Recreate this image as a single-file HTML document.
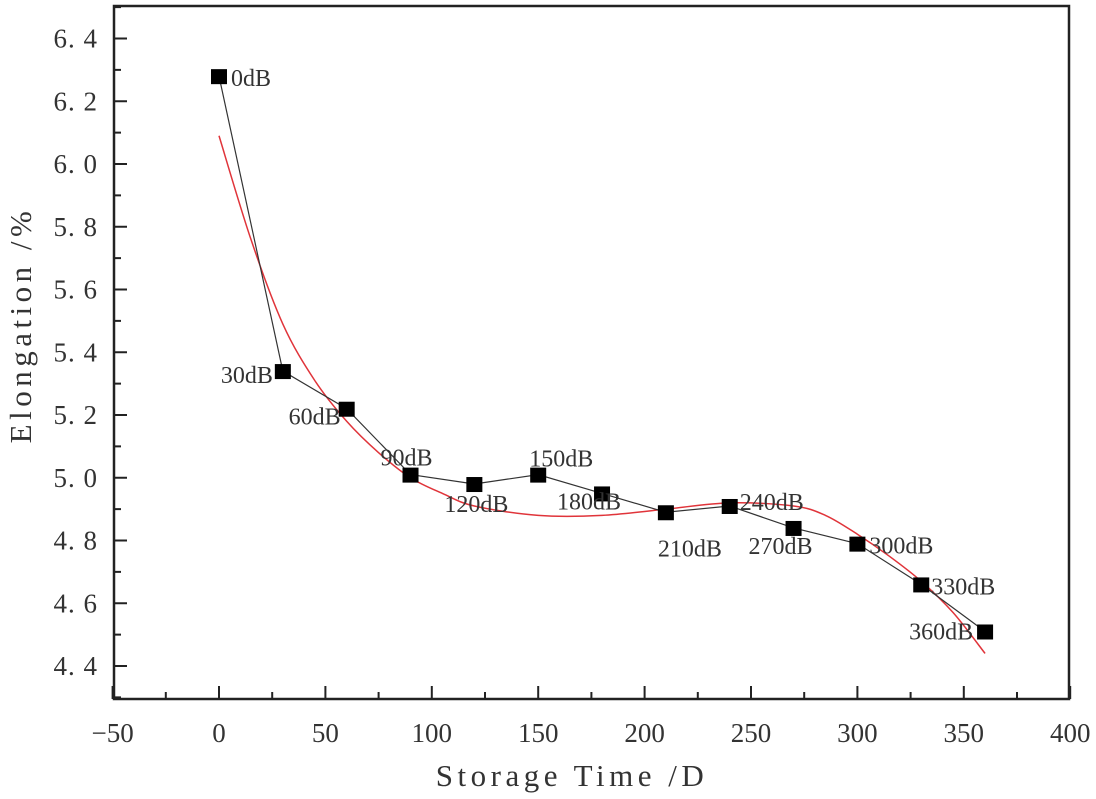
<!DOCTYPE html>
<html><head><meta charset="utf-8"><style>
body{margin:0;background:#fff}
svg text{font-family:"Liberation Serif","Noto Serif CJK SC",serif;fill:#333}
</style></head><body>
<svg id="c" width="1096" height="794"></svg>
<script>
const xs=[0,30,60,90,120,150,180,210,240,270,300,330,360];
const ys=[6.28,5.34,5.22,5.01,4.98,5.01,4.95,4.89,4.91,4.84,4.79,4.66,4.51];
const labels=["0dB","30dB","60dB","90dB","120dB","150dB","180dB","210dB","240dB","270dB","300dB","330dB","360dB"];
const fitX=[0,15,30,45,60,75,90,105,120,150,180,210,240,270,285,300,315,330,345,360];
const fitY=[6.09,5.76,5.49,5.31,5.18,5.08,5.00,4.95,4.91,4.88,4.88,4.90,4.92,4.91,4.88,4.82,4.75,4.67,4.57,4.44];
const xTicks=[-50,0,50,100,150,200,250,300,350,400];
const yTicks=[4.4,4.6,4.8,5.0,5.2,5.4,5.6,5.8,6.0,6.2,6.4];
const L=114,R=1069,T=6,B=699;
const X=v=>219+(v)*106.4/50;
const Y=v=>38.5+(6.4-v)*313.75;
const svg=document.getElementById('c');const NS='http://www.w3.org/2000/svg';
function mk(t,a,p){const e=document.createElementNS(NS,t);for(const k in a)e.setAttribute(k,a[k]);(p||svg).appendChild(e);return e;}
let e=mk('rect',{x:L,y:T,width:R-L,height:B-T,fill:'none',stroke:'#222','stroke-width':2.5});


xTicks.forEach((v,i)=>{const x=X(v);
 mk('line',{x1:x,x2:x,y1:B,y2:B-13,stroke:'#222','stroke-width':2});
 if(i<xTicks.length-1){const m=X(v+25);mk('line',{x1:m,x2:m,y1:B,y2:B-7,stroke:'#222','stroke-width':2});}
 const t=mk('text',{x:x,y:742,'text-anchor':'middle','font-size':27});t.textContent=v<0?'\u221250':String(v);
 
 
});
yTicks.forEach((v,i)=>{const y=Y(v);
 mk('line',{x1:L,x2:L+13,y1:y,y2:y,stroke:'#222','stroke-width':2});
 const m=Y(v+0.1);if(m>T)mk('line',{x1:L,x2:L+7,y1:m,y2:m,stroke:'#222','stroke-width':2});
 const t=mk('text',{x:98,y:y+9,'text-anchor':'end','font-size':27,'letter-spacing':'1'});t.textContent=v.toFixed(1).replace('.','. ');
 
 
});
{const m=Y(4.3);mk('line',{x1:L,x2:L+7,y1:m,y2:m,stroke:'#222','stroke-width':2});}
let t=mk('text',{x:572,y:786,'text-anchor':'middle','font-size':31,'letter-spacing':'4.5'});t.textContent='Storage Time /D';


t=mk('text',{x:0,y:0,'text-anchor':'middle','font-size':31,'letter-spacing':'4.5',transform:'translate(31,325) rotate(-90)'});t.textContent='Elongation /%';


const P=fitX.map((v,i)=>[X(v),Y(fitY[i])]);let d='M'+P[0].join(',');
for(let i=0;i<P.length-1;i++){const p0=P[Math.max(0,i-1)],p1=P[i],p2=P[i+1],p3=P[Math.min(P.length-1,i+2)];
 d+=` C${p1[0]+(p2[0]-p0[0])/6},${p1[1]+(p2[1]-p0[1])/6} ${p2[0]-(p3[0]-p1[0])/6},${p2[1]-(p3[1]-p1[1])/6} ${p2[0]},${p2[1]}`;}
e=mk('path',{d:d,fill:'none',stroke:'#e0343a','stroke-width':1.5});


e=mk('polyline',{points:xs.map((v,i)=>X(v)+','+Y(ys[i])).join(' '),fill:'none',stroke:'#333','stroke-width':1.2});


const off={0:[12,10,'start'],30:[-10,12,'end'],60:[-6,16,'end'],90:[22,-9,'end'],120:[2,28,'middle'],150:[23,-8,'middle'],180:[19,16,'end'],210:[24,44,'middle'],240:[10,4,'start'],270:[-45,26,'start'],300:[12,10,'start'],330:[10,10,'start'],360:[-12,8,'end']};
xs.forEach((v,i)=>{const x=X(v),y=Y(ys[i]);
 const r=mk('rect',{x:x-8,y:y-7,width:16,height:15,fill:'#000'});
 
 
 const o=off[v];const l=mk('text',{x:x+o[0],y:y+o[1],'text-anchor':o[2],'font-size':24});l.textContent=labels[i];
 
 
});
</script>
</body></html>
